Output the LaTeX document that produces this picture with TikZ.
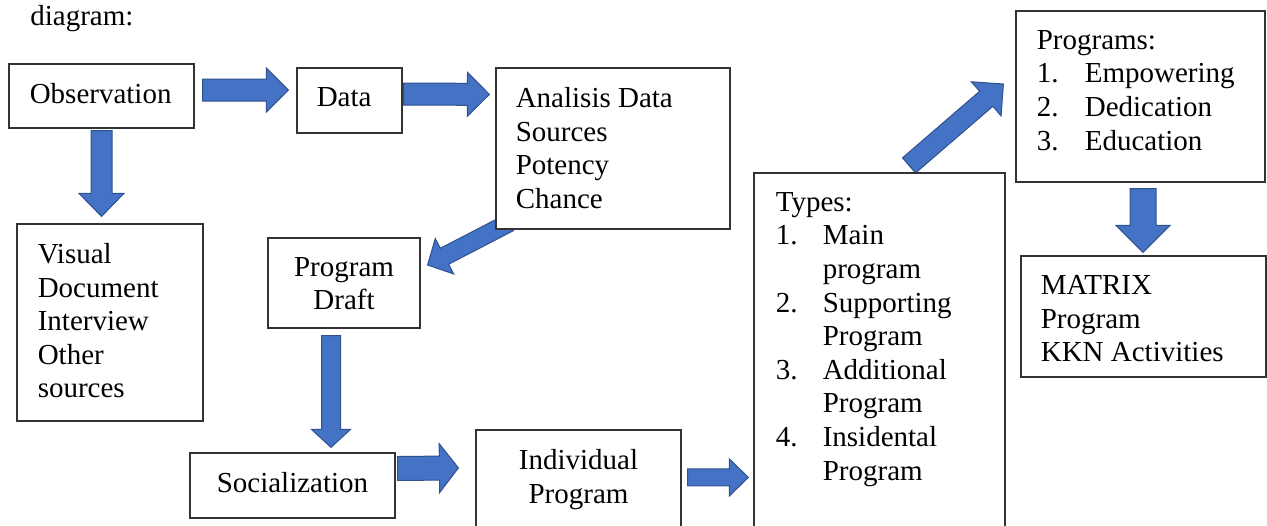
\documentclass[tikz,border=0pt]{standalone}
\usepackage{fontspec}
\setmainfont{Liberation Serif}
\usetikzlibrary{positioning,fit,calc,backgrounds}
\definecolor{arrfill}{HTML}{4472C4}
\definecolor{arredge}{HTML}{2F528F}
% block arrow: tail, tip, half shaft width, half head width, head length
\newcommand{\barrow}[5]{%
  \begin{scope}[on background layer]
    \path (#1) coordinate (ba-s) (#2) coordinate (ba-e);
    \draw[blockarr] let \p1=($(ba-e)-(ba-s)$), \n1={atan2(\y1,\x1)}, \n2={veclen(\x1,\y1)} in
      ($(ba-s)+(\n1+90:#3)$) -- ++(\n1:\n2-#5) -- ++(\n1+90:#4-#3) -- (ba-e)
      -- ($(ba-e)+(\n1:-#5)+(\n1-90:#4)$) -- ++(\n1+90:#4-#3)
      -- ($(ba-s)+(\n1-90:#3)$) -- cycle;
  \end{scope}}

\begin{document}
\begin{tikzpicture}[x=0.5pt, y=-0.5pt,
    box/.style = {draw = black!80, line width = 0.6pt, fill = white, inner sep = 0pt},
    txt/.style = {inner sep = 0pt, align = left, font = \fontsize{14.5pt}{16.8pt}\selectfont},
    blockarr/.style = {fill = arrfill, draw = arredge, line width = 0.5pt, line join = miter}]
        \useasboundingbox (0, 0) rectangle (1267, 525);
        \clip (0, 0) rectangle (1267, 525);

        \node [txt, anchor = base west] (cap) at (30, 25) {diagram:};

        \node [box, fit = {(9, 64) (194, 128)}] (obs) {};
        \node [box, fit = {(297, 68) (402, 133)}] (data) {};
        \node [box, fit = {(496, 68) (730, 229)}] (ana) {};
        \node [box, fit = {(17, 224) (203, 421)}] (src) {};
        \node [box, fit = {(268, 238) (420, 328)}] (draft) {};
        \node [box, fit = {(190, 453) (395, 518)}] (social) {};
        \node [box, fit = {(476, 430) (681, 545)}] (indiv) {};
        \node [box, fit = {(754, 173) (1005, 545)}] (types) {};
        \node [box, fit = {(1016, 11) (1265, 182)}] (progs) {};
        \node [box, fit = {(1021, 256) (1266, 377)}] (matrix) {};

        \node [txt, below right = 9.75pt and 10.5pt of obs.north west] (obstxt) {Observation};
        \node [txt, below right = 9.75pt and 10pt of data.north west] (datatxt) {Data};
        \node [txt, below right = 9.75pt and 10pt of ana.north west] (anatxt) {Analisis Data\\Sources\\Potency\\Chance};
        \node [txt, below right = 9.75pt and 10.5pt of src.north west] (srctxt) {Visual\\Document\\Interview\\Other\\sources};
        \node [txt, align = center, below = 9.75pt of draft.north] (drafttxt) {Program\\Draft};
        \node [txt, align = center, below = 9.75pt of social.north] (socialtxt) {Socialization};
        \node [txt, align = center, below = 9.75pt of indiv.north] (indivtxt) {Individual\\Program};
        \node [txt, below right = 9.75pt and 11pt of types.north west] (typestxt) {Types:\\
            \makebox[23.5pt][l]{1.}Main\\\hspace*{23.5pt}program\\
            \makebox[23.5pt][l]{2.}Supporting\\\hspace*{23.5pt}Program\\
            \makebox[23.5pt][l]{3.}Additional\\\hspace*{23.5pt}Program\\
            \makebox[23.5pt][l]{4.}Insidental\\\hspace*{23.5pt}Program};
        \node [txt, below right = 9.75pt and 10.5pt of progs.north west] (progstxt) {Programs:\\
            \makebox[24pt][l]{1.}Empowering\\
            \makebox[24pt][l]{2.}Dedication\\
            \makebox[24pt][l]{3.}Education};
        \node [txt, below right = 9.75pt and 10pt of matrix.north west] (matrixtxt) {MATRIX\\Program\\KKN Activities};

        \barrow{$(obs.east)+(8, -6)$}{$(data.west)+(-8, -10.5)$}{5.5pt}{11pt}{11pt}
        \barrow{$(data.east)+(1, -6.5)$}{$(ana.north west)+(-6, 27)$}{5.5pt}{11pt}{11pt}
        \barrow{$(obs.south)+(0, 2)$}{$(src.north)+(-8.5, -7)$}{5.25pt}{11.25pt}{11.5pt}
        \barrow{$(ana.south west)+(14, -7)$}{$(draft.east)+(7, -18)$}{4.5pt}{10pt}{9.5pt}
        \barrow{$(draft.south)+(-13, 7)$}{$(social.north)+(38.5, -5)$}{4.75pt}{9.75pt}{9pt}
        \barrow{$(social.east)+(2, -17)$}{$(indiv.north west)+(-17, 38.5)$}{6pt}{12.25pt}{9.5pt}
        \barrow{$(indiv.north east)+(6, 48)$}{$(types.north west)+(-5, 305)$}{4.25pt}{9.25pt}{9.5pt}
        \barrow{$(types.north)+(29.5, -7)$}{$(progs.west)+(-12, -12.5)$}{5pt}{11.3pt}{11.3pt}
        \barrow{$(progs.south)+(2.5, 6)$}{$(matrix.north)+(-0.5, -3)$}{6.5pt}{13.5pt}{13.5pt}
    \end{tikzpicture}
\end{document}
